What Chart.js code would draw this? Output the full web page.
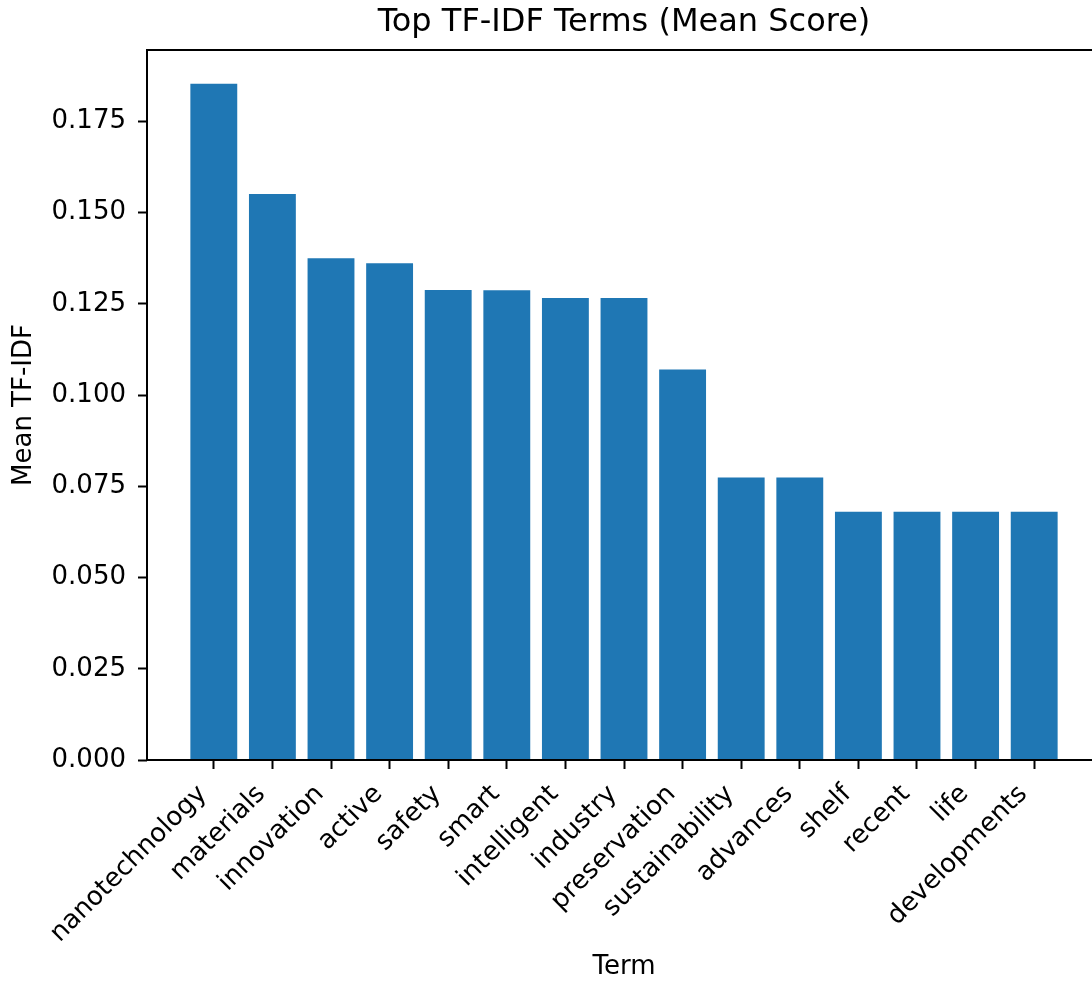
<!DOCTYPE html>
<html>
<head>
<meta charset="utf-8">
<script src="https://cdn.jsdelivr.net/npm/chart.js@4"></script>
<style>
  html, body { margin: 0; padding: 0; background: #fff; overflow: hidden; }
  #wrap { position: relative; width: 1101px; height: 983px; }
</style>
</head>
<body>
<div id="wrap"><canvas id="chart"></canvas></div>
<script>
// ── Data ─────────────────────────────────────────────────────

const terms = [
  "nanotechnology", "materials", "innovation", "active", "safety",
  "smart", "intelligent", "industry", "preservation", "sustainability",
  "advances", "shelf", "recent", "life", "developments",
];
const meanScores = [
  0.1853, 0.1551, 0.1375, 0.1361, 0.1288,
  0.1287, 0.1266, 0.1266, 0.1070, 0.0774,
  0.0774, 0.0680, 0.0680, 0.0680, 0.0680,
];
const yTicks = [0, 0.025, 0.05, 0.075, 0.1, 0.125, 0.15, 0.175];

// ── Chart ────────────────────────────────────────────────────

Chart.defaults.font.family = "DejaVu Sans";
Chart.defaults.color = "#000";

const FONT = 26;
const barColor = "#1f77b4";

// matplotlib-style full box around the axes
const frame = {
  id: "frame",
  afterDatasetsDraw(chart) {
    const { ctx, chartArea: a } = chart;
    ctx.save();
    ctx.strokeStyle = "#000";
    ctx.lineWidth = 2;
    ctx.strokeRect(a.left, a.top, a.right - a.left, a.bottom - a.top);
    ctx.restore();
  },
};

const yMax = Math.max(...meanScores) * 1.05;

new Chart(document.getElementById("chart"), {
  type: "bar",
  data: {
    datasets: [
      {
        data: meanScores.map((v, i) => ({ x: i, y: v })),
        backgroundColor: barColor,
        borderWidth: 0,
        categoryPercentage: 0.8,
        barPercentage: 1.0,
      },
    ],
  },
  options: {
    responsive: true,
    maintainAspectRatio: false,
    animation: false,
    layout: { padding: 0 },
    plugins: {
      legend: { display: false },
      tooltip: { enabled: false },
      title: {
        display: true,
        text: "Top TF-IDF Terms (Mean Score)",
        fullSize: false,
        color: "#000",
        font: { size: 32, weight: "normal" },
        padding: { top: 3.5, bottom: 8.1 },
      },
    },
    scales: {
      x: {
        type: "linear",
        min: -1.14,
        max: 15.14,
        offset: false,
        afterBuildTicks: (s) => { s.ticks = terms.map((_, i) => ({ value: i })); },
        afterFit: (s) => { s.height = 223; },
        grid: {
          display: true,
          offset: false,
          drawOnChartArea: false,
          drawTicks: true,
          tickLength: 9,
          tickWidth: 2,
          tickColor: "#000",
        },
        border: { display: false },
        ticks: {
          autoSkip: false,
          minRotation: 45,
          maxRotation: 45,
          padding: 10,
          labelOffset: -11,
          font: { size: FONT },
          callback: (v) => terms[v] ?? "",
        },
        title: {
          display: true,
          text: "Term",
          font: { size: FONT },
          padding: { top: 0, bottom: 0 },
        },
      },
      y: {
        min: 0,
        max: yMax,
        afterBuildTicks: (s) => { s.ticks = yTicks.map((v) => ({ value: v })); },
        afterFit: (s) => { s.width = 147; },
        grid: {
          display: true,
          drawOnChartArea: false,
          drawTicks: true,
          tickLength: 9,
          tickWidth: 2,
          tickColor: "#000",
        },
        border: { display: false },
        ticks: {
          padding: 12,
          font: { size: FONT },
          callback: (v) => v.toFixed(3),
        },
        title: {
          display: true,
          text: "Mean TF-IDF",
          font: { size: FONT },
          padding: { top: 8.4, bottom: 0 },
        },
      },
    },
  },
  plugins: [frame],
});
</script>
</body>
</html>
